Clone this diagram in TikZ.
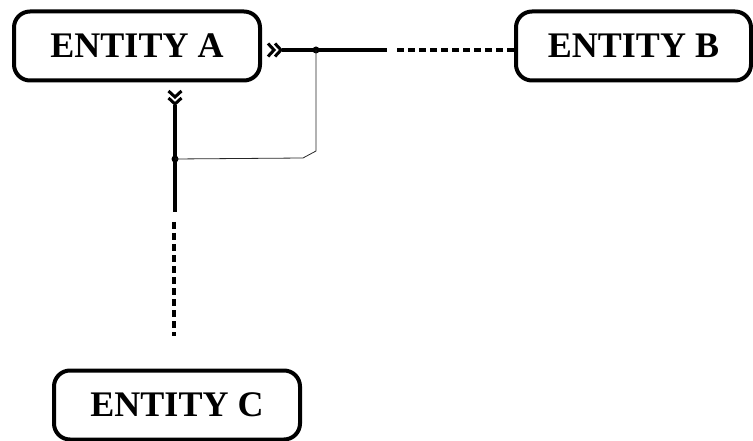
\documentclass[tikz,border=0pt]{standalone}
\usepackage{fontspec}
\setmainfont{Liberation Serif}
\begin{document}
\begin{tikzpicture}[x=1pt,y=-1pt,
  entity/.style={draw, line width=4pt, rounded corners=16pt, inner sep=0pt,
    minimum width=246pt, minimum height=69pt,
    font=\fontsize{36}{40}\selectfont\bfseries},
  link/.style={line width=3.4pt},
  linkdash/.style={line width=3.6pt, dash pattern=on 7pt off 4pt},
  thin/.style={line width=0.8pt, black!85},
  joint/.style={circle, fill, inner sep=0pt, minimum size=7pt},
  chevrons/.pic={
    \draw[line width=3pt, miter limit=3] (-14,-6.5) -- (-8,0) -- (-14,6.5);
    \draw[line width=3pt, miter limit=3] (-7,-6.5) -- (-1,0) -- (-7,6.5);
  }]
\useasboundingbox (0,0) rectangle (753,441);
% the three entities
\node[entity] (A) at (137,46) {ENTITY A};
\node[entity, minimum width=235pt] (B) at (633.5,46) {ENTITY B};
\node[entity] (C) at (177,405) {ENTITY C};
% relationship A -- B (double chevron at the A end)
\coordinate (h0) at (282,50);
\coordinate (h1) at (387,50);
\coordinate (h2) at (397,50);
\pic at (h0) {chevrons};
\draw[link] (h0) -- (h1);
\draw[linkdash] (h2) -- (B.west |- h2);
% relationship A -- C (double chevron at the A end)
\coordinate (v0) at (175,105);
\coordinate (v1) at (175,212);
\coordinate (v2) at (174,222);
\coordinate (v3) at (174,336);
\pic[rotate=-90] at (v0) {chevrons};
\draw[link] (v0) -- (v1);
\draw[linkdash] (v2) -- (v3);
% joints and the thin link between the two relationships
\node[joint] (jh) at (316,50) {};
\node[joint] (jv) at (175,159) {};
\draw[thin] (jh.center) -- (316,151) -- (303,158) -- (jv.center);
\end{tikzpicture}
\end{document}
